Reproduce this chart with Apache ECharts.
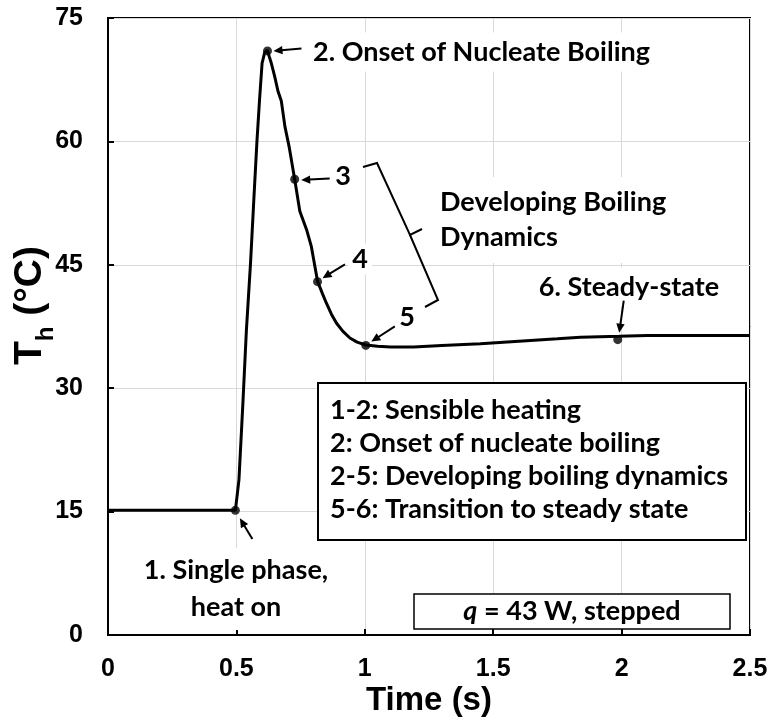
<!DOCTYPE html>
<html>
<head>
<meta charset="utf-8">
<script src="https://cdn.jsdelivr.net/npm/echarts@6/dist/echarts.min.js"></script>
<style>
  html, body { margin: 0; padding: 0; background: #ffffff; }
  #chart { width: 771px; height: 726px; }
</style>
</head>
<body>
<div id="chart"></div>
<script>
// Heater temperature T_h after a stepped 43 W heat input
const timeS = [0, 0.1, 0.2, 0.3, 0.4, 0.496, 0.503, 0.51, 0.525, 0.539, 0.555, 0.568, 0.58, 0.59, 0.6, 0.61,
  0.621, 0.628, 0.636, 0.649, 0.662, 0.675, 0.689, 0.705, 0.727, 0.747, 0.773, 0.792, 0.816, 0.835,
  0.851, 0.87, 0.89, 0.915, 0.942, 0.97, 1.004, 1.05, 1.1, 1.19, 1.3, 1.45, 1.6, 1.75, 1.84, 1.99,
  2.1, 2.3, 2.5];
const tempC = [15.15, 15.15, 15.15, 15.15, 15.15, 15.15, 17.0, 18.9, 28.0, 37.1, 45.2, 53.0, 60.0, 65.0, 69.5, 70.8,
  71.1, 70.3, 69.5, 67.9, 66.1, 64.9, 61.8, 59.4, 55.4, 51.5, 49.3, 47.2, 43.0, 41.5,
  40.3, 39.0, 37.9, 36.9, 36.1, 35.6, 35.25, 35.1, 35.0, 35.0, 35.2, 35.4, 35.7, 36.0, 36.2, 36.3,
  36.4, 36.4, 36.4];

// Marked stages along the trace
const stageIds = ['1', '2', '3', '4', '5', '6'];
const stageTime = [0.496, 0.621, 0.727, 0.816, 1.004, 1.985];
const stageTemp = [15.15, 71.0, 55.4, 42.95, 35.2, 35.9];

// Axis ticks
const xTicks = [0, 0.5, 1, 1.5, 2, 2.5];
const yTicks = [0, 15, 30, 45, 60, 75];

// Text blocks
const stageLabels = {
  '1': '1. Single phase,\nheat on',
  '2': '2. Onset of Nucleate Boiling',
  '3': '3',
  '4': '4',
  '5': '5',
  '6': '6. Steady-state'
};
const bracketLabel = 'Developing Boiling\nDynamics';
const legendLines = [
  '1-2: Sensible heating',
  '2: Onset of nucleate boiling',
  '2-5: Developing boiling dynamics',
  '5-6: Transition to steady state'
];
const conditionText = '{i|q} = 43 W, stepped';

const AXIS_FONT = '"Liberation Sans", Arial, sans-serif';
const NOTE_FONT = 'Lato, "Open Sans", sans-serif';
const NOTE_SIZE = 27;

const chart = echarts.init(document.getElementById('chart'), null, { renderer: 'canvas' });

chart.setOption({
  animation: false,
  backgroundColor: '#ffffff',
  grid: {
    left: 108, right: 21, top: 18, bottom: 91,
    outerBoundsMode: 'none', containLabel: false,
    show: true, borderColor: '#000', borderWidth: 2, backgroundColor: 'transparent'
  },
  xAxis: {
    type: 'value',
    min: xTicks[0], max: xTicks[xTicks.length - 1], interval: xTicks[1] - xTicks[0],
    axisLine: { show: true, onZero: false, lineStyle: { color: '#000', width: 2 } },
    axisTick: { show: true, inside: true, length: 6, lineStyle: { color: '#000', width: 2 } },
    axisLabel: { color: '#000', fontFamily: AXIS_FONT, fontWeight: 'bold', fontSize: 25, margin: 22 },
    splitLine: { show: true, lineStyle: { color: '#d9d9d9', width: 1 } },
    name: 'Time (s)', nameLocation: 'middle', nameGap: 49, nameMoveOverlap: false,
    nameTextStyle: { color: '#000', fontFamily: AXIS_FONT, fontWeight: 'bold', fontSize: 33 }
  },
  yAxis: {
    type: 'value',
    min: yTicks[0], max: yTicks[yTicks.length - 1], interval: yTicks[1] - yTicks[0],
    axisLine: { show: true, lineStyle: { color: '#000', width: 2 } },
    axisTick: { show: true, inside: true, length: 6, lineStyle: { color: '#000', width: 2 } },
    axisLabel: { color: '#000', fontFamily: AXIS_FONT, fontWeight: 'bold', fontSize: 25, margin: 25 },
    splitLine: { show: true, lineStyle: { color: '#d9d9d9', width: 1 } },
    name: '{t|T}{s|h}{t| (°C)}', nameLocation: 'middle', nameRotate: 90, nameGap: 50,
    nameMoveOverlap: false,
    nameTextStyle: {
      color: '#000', fontFamily: AXIS_FONT, fontWeight: 'bold', fontSize: 39,
      padding: [0, 0, 0, 42],
      rich: {
        t: { color: '#000', fontFamily: AXIS_FONT, fontWeight: 'bold', fontSize: 39, padding: [0, 0, 8, 0] },
        s: { color: '#000', fontFamily: AXIS_FONT, fontWeight: 'bold', fontSize: 24, verticalAlign: 'bottom' }
      }
    }
  },
  series: [
    {
      type: 'line',
      data: timeS.map((t, i) => [t, tempC[i]]),
      showSymbol: false,
      lineStyle: { color: '#000', width: 3 },
      z: 3
    },
    {
      type: 'scatter',
      data: stageTime.map((t, i) => [t, stageTemp[i]]),
      symbol: 'circle',
      symbolSize: 9,
      itemStyle: { color: '#000' },
      z: 4
    }
  ]
});

// Arrow tail and tip, as pixel offsets from each stage dot
const arrowOffsets = {
  '1': { tail: [17, 28.6], tip: [4.5, 8] },
  '2': { tail: [34, -2.4], tip: [6, 0] },
  '3': { tail: [35, -0.7], tip: [6.5, 0.8] },
  '4': { tail: [27.4, -17.3], tip: [5, -3.5] },
  '5': { tail: [29, -19], tip: [5.5, -3.8] },
  '6': { tail: [6, -39], tip: [1.5, -7] }
};

function arrow(tail, tip) {
  const dx = tip[0] - tail[0], dy = tip[1] - tail[1];
  const len = Math.hypot(dx, dy);
  const ux = dx / len, uy = dy / len;
  const headL = 9, headW = 4.2;
  const bx = tip[0] - ux * headL, by = tip[1] - uy * headL;
  return [
    {
      type: 'line', z: 20,
      shape: { x1: tail[0], y1: tail[1], x2: bx + ux, y2: by + uy },
      style: { stroke: '#000', lineWidth: 2 }
    },
    {
      type: 'polygon', z: 20,
      shape: { points: [tip, [bx - uy * headW, by + ux * headW], [bx + uy * headW, by - ux * headW]] },
      style: { fill: '#000' }
    }
  ];
}

function note(text, x, y, align, extra) {
  return {
    type: 'text', z: 15, x: x, y: y,
    style: Object.assign({
      text: text,
      fontFamily: NOTE_FONT, fontWeight: 'bold', fontSize: NOTE_SIZE,
      fill: '#000', align: align, verticalAlign: 'middle',
      backgroundColor: '#fff', padding: [6, 4]
    }, extra || {})
  };
}

const px = stageIds.map((id, i) => chart.convertToPixel({ gridIndex: 0 }, [stageTime[i], stageTemp[i]]));
const graphics = [];

stageIds.forEach((id, i) => {
  const p = px[i];
  const o = arrowOffsets[id];
  arrow([p[0] + o.tail[0], p[1] + o.tail[1]], [p[0] + o.tip[0], p[1] + o.tip[1]]).forEach(g => graphics.push(g));
});

// Stage captions
graphics.push(note(stageLabels['2'], 309, 52, 'left'));
graphics.push(note(stageLabels['3'], 343, 176, 'center', { padding: [2, 4] }));
graphics.push(note(stageLabels['4'], 360, 259, 'center', { padding: [2, 4] }));
graphics.push(note(stageLabels['5'], 407, 317, 'center', { padding: [2, 4] }));
graphics.push(note(stageLabels['6'], 629, 287, 'center'));
graphics.push(note(stageLabels['1'], 236, 589, 'center', { lineHeight: 37, padding: [4, 4] }));

// Bracket spanning stages 3 to 5
graphics.push({
  type: 'polyline', z: 15,
  shape: { points: [[363, 167], [377, 163], [410, 235], [422, 229]] },
  style: { stroke: '#000', lineWidth: 2, fill: null }
});
graphics.push({
  type: 'polyline', z: 15,
  shape: { points: [[410, 235], [438, 300], [425, 307]] },
  style: { stroke: '#000', lineWidth: 2, fill: null }
});
graphics.push(note(bracketLabel, 434, 220, 'left', { lineHeight: 35, padding: [8, 6] }));

// Stage key box
graphics.push({
  type: 'rect', z: 14,
  shape: { x: 318, y: 383, width: 428, height: 157 },
  style: { fill: '#fff', stroke: '#000', lineWidth: 2 }
});
const legendTop = 410, legendStep = 33;
legendLines.forEach((line, i) => {
  graphics.push(note(line, 330, legendTop + i * legendStep, 'left', { backgroundColor: null, padding: 0 }));
});

// Heat input box
graphics.push({
  type: 'rect', z: 14,
  shape: { x: 414, y: 594, width: 316, height: 35 },
  style: { fill: '#fff', stroke: '#000', lineWidth: 1.5 }
});
graphics.push(note(conditionText, 572, 611, 'center', {
  backgroundColor: null, padding: 0,
  rich: {
    i: { fontFamily: NOTE_FONT, fontWeight: 'bold', fontStyle: 'italic', fontSize: NOTE_SIZE, fill: '#000' }
  }
}));

chart.setOption({ graphic: graphics });
</script>
</body>
</html>
